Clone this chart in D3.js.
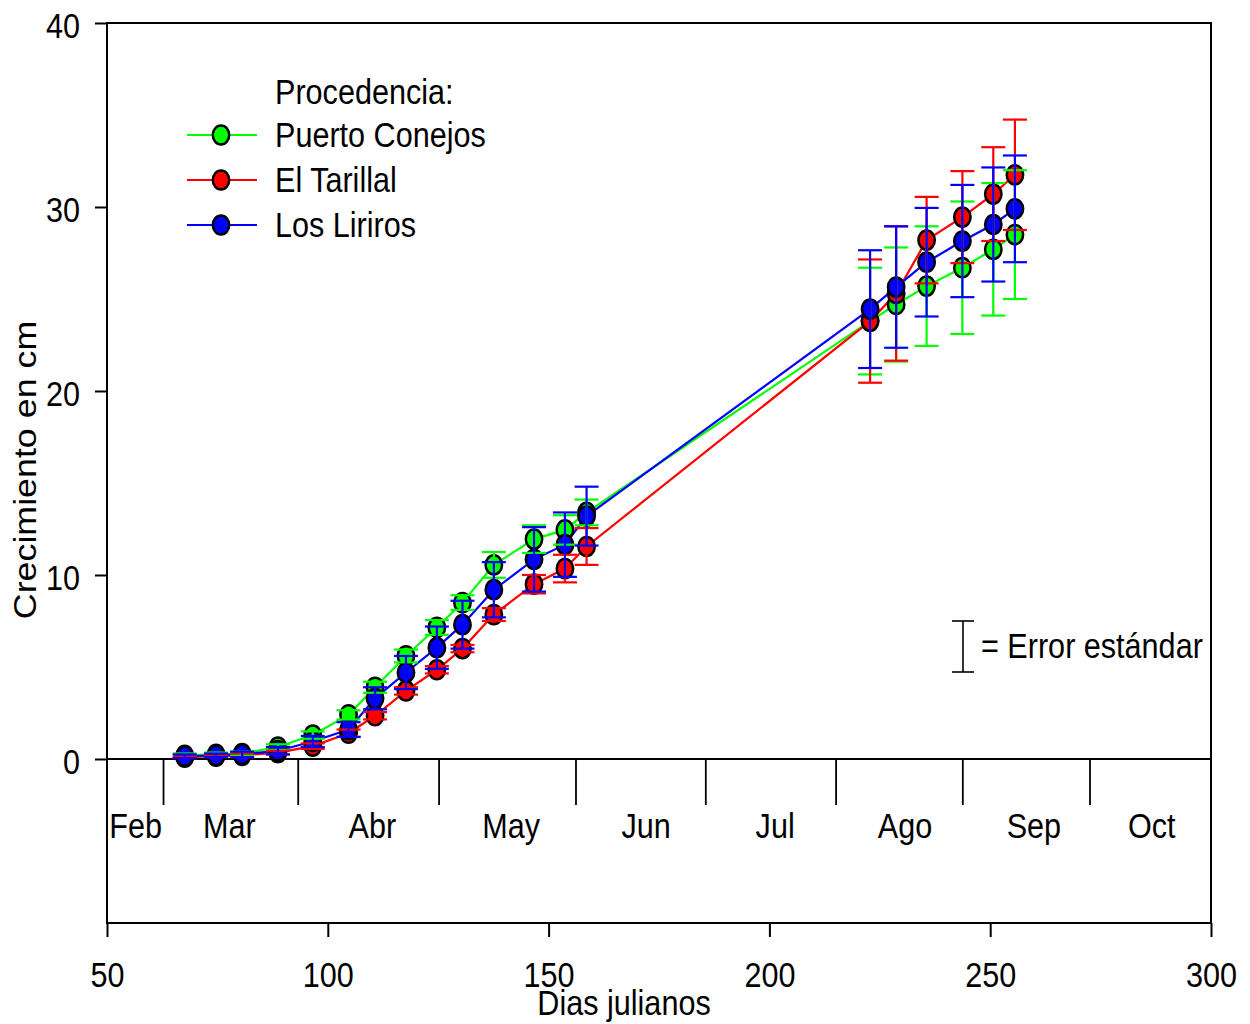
<!DOCTYPE html>
<html><head><meta charset="utf-8">
<script src="https://cdn.jsdelivr.net/npm/d3@7"></script>
<style>
body{margin:0;background:#fff}
svg{display:block}
text{font-family:"Liberation Sans",Arial,Helvetica,sans-serif;fill:#000}
</style>
</head><body>
<svg id="chart" width="1250" height="1024"></svg>
<script>
// ---------------- data ----------------
const days = [67.6, 74.7, 80.6, 88.7, 96.6, 104.7, 110.7, 117.7, 124.7, 130.5, 137.6, 146.7, 153.7, 158.6,
              222.8, 228.7, 235.6, 243.7, 250.7, 255.6];
const seriesNames = ["Puerto Conejos", "El Tarillal", "Los Liriros"];
const seriesColors = ["#00ff00", "#ff0000", "#0000ff"];

const puertoConejos   = [0.2, 0.25, 0.3, 0.65, 1.3, 2.4, 3.9, 5.6, 7.15, 8.5, 10.55, 11.95, 12.45, 13.4,
                         23.8, 24.7, 25.7, 26.7, 27.7, 28.5];
const puertoConejosSE = [0.1, 0.1, 0.1, 0.15, 0.2, 0.25, 0.3, 0.35, 0.4, 0.4, 0.7, 0.75, 0.8, 0.7,
                         2.9, 3.1, 3.25, 3.6, 3.6, 3.5];
const elTarillal      = [0.1, 0.15, 0.2, 0.35, 0.7, 1.4, 2.35, 3.7, 4.85, 6.0, 7.85, 9.5, 10.35, 11.55,
                         23.8, 25.3, 28.2, 29.45, 30.7, 31.75];
const elTarillalSE    = [0.05, 0.05, 0.1, 0.1, 0.15, 0.2, 0.2, 0.2, 0.2, 0.2, 0.35, 0.5, 0.75, 1.0,
                         3.35, 3.65, 2.35, 2.5, 2.55, 3.0];
const losLiriros      = [0.15, 0.2, 0.25, 0.45, 0.95, 1.6, 3.3, 4.7, 6.05, 7.3, 9.2, 10.85, 11.65, 13.2,
                         24.45, 25.65, 27.0, 28.15, 29.05, 29.9];
const losLirirosSE    = [0.1, 0.1, 0.15, 0.2, 0.3, 0.4, 0.6, 0.9, 1.15, 1.3, 1.5, 1.75, 1.75, 1.6,
                         3.2, 3.3, 2.95, 3.05, 3.1, 2.9];

const xTicks = [50, 100, 150, 200, 250, 300];
const yTicks = [0, 10, 20, 30, 40];
const monthLabels = ["Feb", "Mar", "Abr", "May", "Jun", "Jul", "Ago", "Sep", "Oct"];
const monthLabelDays = [56.5, 77.7, 110.1, 141.5, 172.1, 201.3, 230.7, 259.9, 286.6];
const monthBoundaryDays = [62.8, 93.3, 125.2, 156.2, 185.6, 215.1, 243.8, 272.6];

const legendTitle = "Procedencia:";
const xTitle = "Dias julianos";
const yTitle = "Crecimiento en cm";
const errorNote = "= Error estándar";

// ---------------- layout ----------------
const L = 107, R = 1211, T = 23, B = 923, Y0 = 759;
const FS = 30.6, SY = 1.12;

const svg = d3.select("#chart");
const x = d3.scaleLinear().domain([50, 300]).range([L, R]);
const y = d3.scaleLinear().domain([0, 40]).range([Y0, T]);

const series = [
  {name: seriesNames[0], color: seriesColors[0], vals: puertoConejos, se: puertoConejosSE},
  {name: seriesNames[1], color: seriesColors[1], vals: elTarillal, se: elTarillalSE},
  {name: seriesNames[2], color: seriesColors[2], vals: losLiriros, se: losLirirosSE}
];

function stretchedText(g, tx, ty, str, anchor) {
  return g.append("text")
    .attr("transform", `translate(${tx},${ty}) scale(1,${SY})`)
    .attr("text-anchor", anchor || "start")
    .attr("font-size", FS)
    .text(str);
}

// frame
svg.append("rect").attr("x", L).attr("y", T).attr("width", R - L).attr("height", B - T)
  .attr("fill", "none").attr("stroke", "#000").attr("stroke-width", 2);

// zero line
svg.append("line").attr("x1", L).attr("x2", R).attr("y1", y(0)).attr("y2", y(0))
  .attr("stroke", "#000").attr("stroke-width", 2);

// month separators and labels
svg.append("g").selectAll("line").data(monthBoundaryDays).join("line")
  .attr("x1", d => x(d)).attr("x2", d => x(d))
  .attr("y1", y(0)).attr("y2", y(0) + 46)
  .attr("stroke", "#000").attr("stroke-width", 1.8);
const mg = svg.append("g");
monthLabels.forEach((m, i) => stretchedText(mg, x(monthLabelDays[i]), 838, m, "middle"));

// y axis
const yAxis = d3.axisLeft(y).tickValues(yTicks).tickSize(12).tickFormat(d3.format("d"));
const gy = svg.append("g").attr("transform", `translate(${L},0)`).call(yAxis);
gy.select(".domain").remove();
gy.selectAll(".tick line").attr("stroke", "#000").attr("stroke-width", 2);
gy.selectAll(".tick text")
  .attr("x", null).attr("dy", null)
  .attr("font-size", FS).attr("fill", "#000")
  .attr("transform", `translate(-27,14) scale(1,${SY})`);
gy.attr("font-family", null).attr("font-size", null);

// x axis
const xAxis = d3.axisBottom(x).tickValues(xTicks).tickSize(14).tickFormat(d3.format("d"));
const gx = svg.append("g").attr("transform", `translate(0,${B})`).call(xAxis);
gx.select(".domain").remove();
gx.selectAll(".tick line").attr("stroke", "#000").attr("stroke-width", 2);
gx.selectAll(".tick text")
  .attr("y", null).attr("dy", null)
  .attr("font-size", FS).attr("fill", "#000")
  .attr("transform", `translate(0,64) scale(1,${SY})`);
gx.attr("font-family", null).attr("font-size", null);

// axis titles
stretchedText(svg, 624, 1015, xTitle, "middle");
svg.append("text")
  .attr("transform", `translate(36,470) scale(1,1.17) rotate(-90)`)
  .attr("text-anchor", "middle").attr("font-size", FS)
  .text(yTitle);

// series lines
const line = d3.line().x((d, i) => x(days[i])).y(d => y(d));
series.forEach(s => {
  svg.append("path").datum(s.vals)
    .attr("d", line).attr("fill", "none")
    .attr("stroke", s.color).attr("stroke-width", 2.2);
});

// markers
const RX = 8.2, RY = 9.6, CAP = 12;
series.forEach(s => {
  svg.append("g").selectAll("ellipse").data(s.vals).join("ellipse")
    .attr("cx", (d, i) => x(days[i])).attr("cy", d => y(d))
    .attr("rx", RX).attr("ry", RY)
    .attr("fill", s.color).attr("stroke", "#000").attr("stroke-width", 2.5);
});

// error bars
series.forEach(s => {
  const g = svg.append("g").attr("stroke", s.color).attr("stroke-width", 2.2);
  s.vals.forEach((v, i) => {
    const cx = x(days[i]);
    const y1 = y(v + s.se[i]), y2 = y(v - s.se[i]);
    g.append("line").attr("x1", cx).attr("x2", cx).attr("y1", y1).attr("y2", y2);
    g.append("line").attr("x1", cx - CAP).attr("x2", cx + CAP).attr("y1", y1).attr("y2", y1);
    g.append("line").attr("x1", cx - CAP).attr("x2", cx + CAP).attr("y1", y2).attr("y2", y2);
  });
});

// legend
const lg = svg.append("g");
stretchedText(lg, 275, 104, legendTitle, "start");
const legendRows = [135, 180, 225];
series.forEach((s, i) => {
  const ly = legendRows[i];
  lg.append("line").attr("x1", 187).attr("x2", 257).attr("y1", ly).attr("y2", ly)
    .attr("stroke", s.color).attr("stroke-width", 2.2);
  lg.append("ellipse").attr("cx", 221).attr("cy", ly).attr("rx", RX).attr("ry", RY)
    .attr("fill", s.color).attr("stroke", "#000").attr("stroke-width", 2.5);
  stretchedText(lg, 275, ly + 12, s.name, "start");
});

// error note
const eg = svg.append("g");
eg.append("line").attr("x1", 963).attr("x2", 963).attr("y1", 621).attr("y2", 672).attr("stroke", "#000").attr("stroke-width", 1.6);
eg.append("line").attr("x1", 952).attr("x2", 974).attr("y1", 621).attr("y2", 621).attr("stroke", "#000").attr("stroke-width", 1.6);
eg.append("line").attr("x1", 952).attr("x2", 974).attr("y1", 672).attr("y2", 672).attr("stroke", "#000").attr("stroke-width", 1.6);
stretchedText(eg, 981, 658, errorNote, "start");
</script>
</body></html>
